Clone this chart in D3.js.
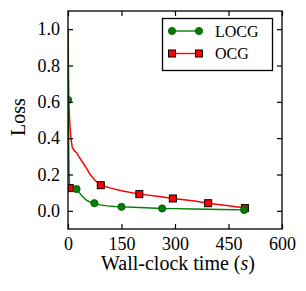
<!DOCTYPE html>
<html><head><meta charset="utf-8">
<script src="https://cdn.jsdelivr.net/npm/d3@7"></script>
</head><body style="margin:0;background:#fff"><svg id="c" width="306" height="291"></svg>
<script>
const xTicks = [0, 150, 300, 450, 600];
const yTicks = [0.0, 0.2, 0.4, 0.6, 0.8, 1.0];
// LOCG curve (time s, loss)
const locgLineT = [0, 0.5, 1, 2, 3, 4, 8, 15, 24, 32, 40, 50, 60, 74, 90, 110, 130, 150, 200, 264, 300, 350, 430, 494];
const locgLineV = [1.0, 0.85, 0.61, 0.35, 0.2, 0.15, 0.13, 0.125, 0.12, 0.1, 0.08, 0.062, 0.05, 0.042, 0.033, 0.027, 0.024, 0.022, 0.018, 0.013, 0.012, 0.01, 0.007, 0.005];
const locgMarkT = [0.5, 24, 74, 150, 264, 494];
const locgMarkV = [0.61, 0.12, 0.042, 0.022, 0.013, 0.005];
// OCG curve
const ocgLineT = [0, 1, 2, 3, 5, 8, 12, 18, 24, 30, 40, 50, 62, 75, 92, 120, 150, 200, 250, 294, 350, 393, 450, 496];
const ocgLineV = [1.0, 0.8, 0.65, 0.57, 0.48, 0.4, 0.35, 0.33, 0.32, 0.3, 0.27, 0.24, 0.2, 0.17, 0.141, 0.125, 0.11, 0.092, 0.08, 0.068, 0.055, 0.042, 0.028, 0.015];
const ocgMarkT = [5, 92, 200, 294, 393, 496];
const ocgMarkV = [0.125, 0.141, 0.092, 0.068, 0.042, 0.015];
const seriesNames = ["LOCG", "OCG"];

const FF = "Liberation Serif";
const svg = d3.select("#c");
const L = 68, R = 282, T = 11, B = 229;
const x = d3.scaleLinear().domain([0, 600]).range([L, R]);
const y = d3.scaleLinear().domain([-0.1, 1.1]).range([B, T]);

const line = d3.line().x(d => x(d[0])).y(d => y(d[1]));
svg.append("clipPath").attr("id","cp").append("rect").attr("x",L).attr("y",T).attr("width",R-L).attr("height",B-T);

const g = svg.append("g").attr("clip-path","url(#cp)");
const locgPts = locgLineT.map((t,i)=>[t,locgLineV[i]]);
const ocgPts = ocgLineT.map((t,i)=>[t,ocgLineV[i]]);
g.append("path").attr("d", line(ocgPts)).attr("fill","none").attr("stroke","#ff0000").attr("stroke-width",1.5);
g.append("path").attr("d", line(locgPts)).attr("fill","none").attr("stroke","#008000").attr("stroke-width",1.4);

const s = 7;
g.selectAll("rect.o").data(ocgMarkT.map((t,i)=>[t,ocgMarkV[i]])).enter().append("rect")
  .attr("x", d=>x(d[0])-s/2).attr("y", d=>y(d[1])-s/2).attr("width",s).attr("height",s)
  .attr("fill","#ff0000").attr("stroke","#000").attr("stroke-width",1);
g.selectAll("circle.l").data(locgMarkT.map((t,i)=>[t,locgMarkV[i]])).enter().append("circle")
  .attr("cx", d=>x(d[0])).attr("cy", d=>y(d[1])).attr("r",3.6)
  .attr("fill","#008000").attr("stroke","#005000").attr("stroke-width",0.8);

// axes with inward ticks
const tl = 5;
const ax = svg.append("g");
ax.append("g").attr("transform",`translate(0,${B})`).call(d3.axisBottom(x).tickValues(xTicks).tickSize(-tl).tickPadding(8).tickFormat(d3.format("d")))
  .call(a=>{a.attr("font-family",FF).attr("font-size",18); a.select(".domain").remove(); a.selectAll("text").style("font-family",FF).attr("fill","#000");});
ax.append("g").attr("transform",`translate(0,${T})`).call(d3.axisTop(x).tickValues(xTicks).tickSize(-tl).tickFormat(""))
  .call(a=>a.select(".domain").remove());
ax.append("g").attr("transform",`translate(${L},0)`).call(d3.axisLeft(y).tickValues(yTicks).tickSize(-tl).tickPadding(8).tickFormat(d3.format(".1f")))
  .call(a=>{a.attr("font-family",FF).attr("font-size",18); a.select(".domain").remove(); a.selectAll("text").style("font-family",FF).attr("fill","#000");});
ax.append("g").attr("transform",`translate(${R},0)`).call(d3.axisRight(y).tickValues(yTicks).tickSize(-tl).tickFormat(""))
  .call(a=>a.select(".domain").remove());
ax.selectAll("line").attr("stroke","#000").attr("stroke-width",1.2);
svg.append("rect").attr("x",L).attr("y",T).attr("width",R-L).attr("height",B-T).attr("fill","none").attr("stroke","#000").attr("stroke-width",1.3);

// labels
const xl = svg.append("text").attr("x",(L+R)/2+3).attr("y",270).attr("text-anchor","middle").attr("font-size",20).attr("font-family",FF);
xl.append("tspan").text("Wall-clock time (");
xl.append("tspan").attr("font-style","italic").text("s");
xl.append("tspan").text(")");
svg.append("text").attr("transform",`translate(25,${(T+B)/2 - 3}) rotate(-90)`).attr("text-anchor","middle").attr("font-size",20).attr("font-family",FF).text("Loss");

// legend
const lg = svg.append("g");
lg.append("rect").attr("x",162.5).attr("y",18.5).attr("width",110).attr("height",52).attr("fill","#fff").attr("stroke","#000").attr("stroke-width",1.3);
const rows = [{n:seriesNames[0], c:"#008000", y:31, m:"c"},{n:seriesNames[1], c:"#ff0000", y:53.5, m:"s"}];
rows.forEach(r=>{
  lg.append("line").attr("x1",172).attr("x2",199).attr("y1",r.y).attr("y2",r.y).attr("stroke",r.c).attr("stroke-width",1.4);
  [172,199].forEach(px=>{
    if(r.m==="c") lg.append("circle").attr("cx",px).attr("cy",r.y).attr("r",3.6).attr("fill","#008000").attr("stroke","#005000").attr("stroke-width",0.8);
    else lg.append("rect").attr("x",px-s/2).attr("y",r.y-s/2).attr("width",s).attr("height",s).attr("fill","#ff0000").attr("stroke","#000").attr("stroke-width",1);
  });
  lg.append("text").attr("x",215).attr("y",r.y+5.5).attr("font-size",16).attr("font-family",FF).text(r.n);
});
</script></body></html>
